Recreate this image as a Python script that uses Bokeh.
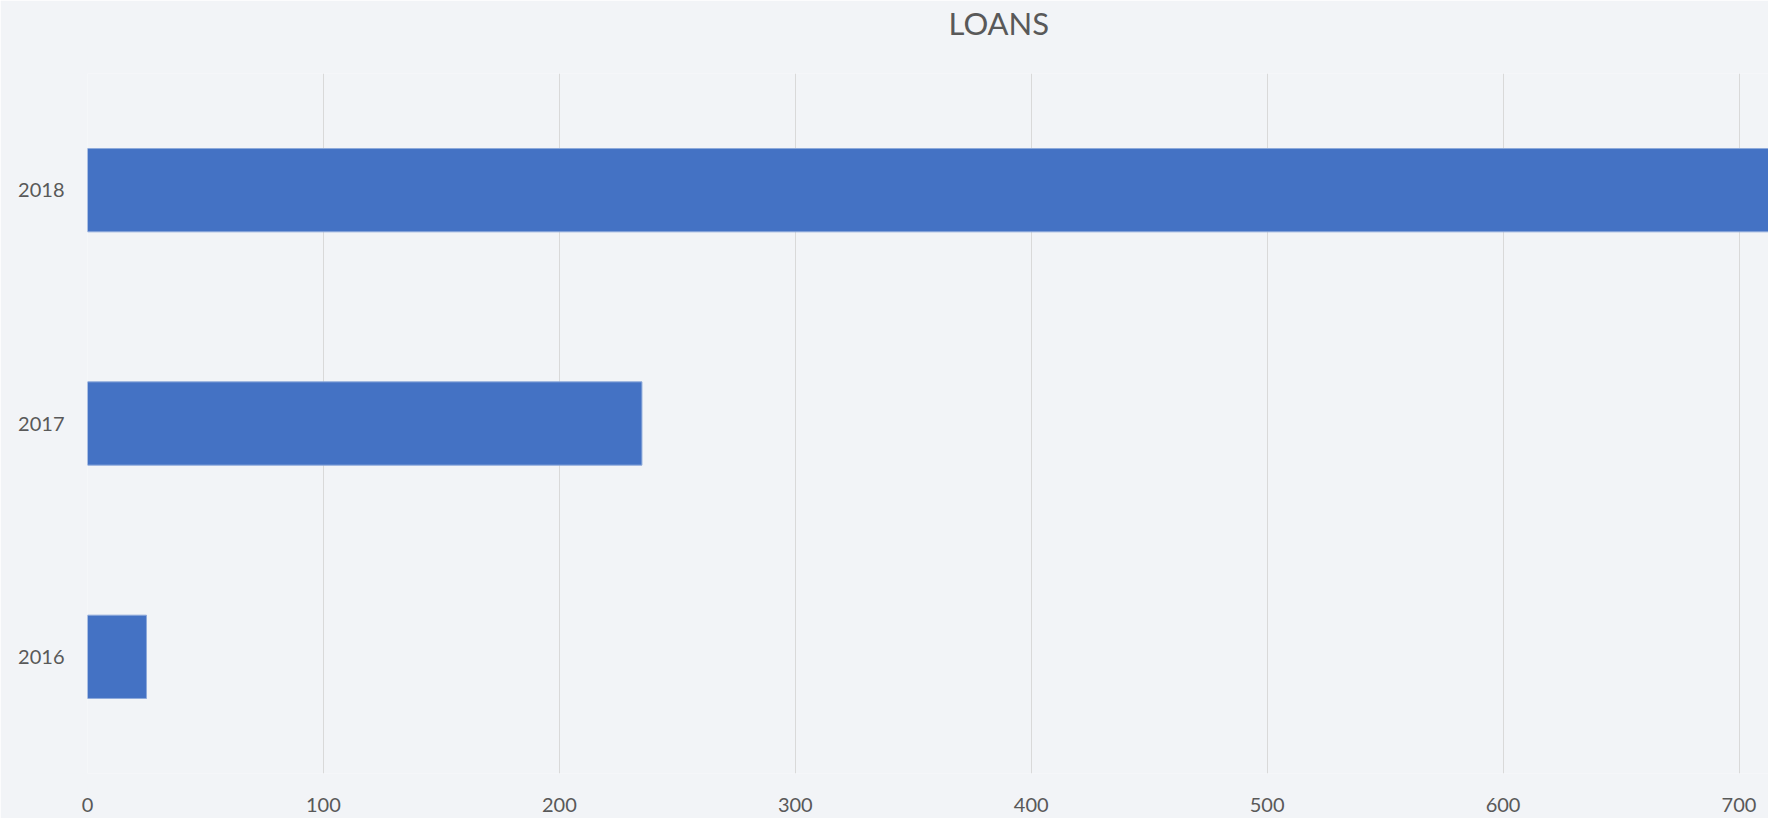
from bokeh.plotting import figure
from bokeh.models import ColumnDataSource, Range1d, FactorRange, Title
from bokeh.embed import file_html
from bokeh.resources import INLINE

years = ["2016", "2017", "2018"]
loans = [25, 235, 740]
x_ticks = [0, 100, 200, 300, 400, 500, 600, 700]
title_text = "LOANS"

src = ColumnDataSource(dict(year=years, loans=loans))

FONT = "Lato"
GREY = "#595959"

p = figure(width=1768, height=818, y_range=FactorRange(*years, range_padding=0),
           x_range=Range1d(0, 712.5), output_backend="svg", toolbar_location=None,
           title=None,
           min_border_left=87, min_border_right=0, min_border_top=73, min_border_bottom=45)

p.hbar(y="year", right="loans", left=0, height=0.357, source=src,
       fill_color="#4472c4", line_color="#8eaadb", line_width=1)

# spacer between frame and title
p.add_layout(Title(text=" ", text_font_size="1px", standoff=29), "above")
p.add_layout(Title(text=title_text, align="left", offset=861, text_font=FONT,
                   text_font_size="31px", text_font_style="normal",
                   text_color=GREY, standoff=0), "above")

p.background_fill_color = "#f2f4f7"
p.border_fill_color = "#f2f4f7"
p.outline_line_color = None

p.xaxis.ticker = x_ticks
p.xaxis.axis_line_color = None
p.xaxis.major_tick_line_color = None
p.xaxis.minor_tick_line_color = None
p.xaxis.major_label_text_font = FONT
p.xaxis.major_label_text_font_size = "20px"
p.xaxis.major_label_text_color = GREY
p.xaxis.major_label_standoff = 18

p.yaxis.axis_line_color = None
p.yaxis.major_tick_line_color = None
p.yaxis.major_label_text_font = FONT
p.yaxis.major_label_text_font_size = "20px"
p.yaxis.major_label_text_color = GREY
p.yaxis.major_label_standoff = 17

p.xgrid.grid_line_color = "#d9d9d9"
p.xgrid.grid_line_width = 1
p.ygrid.grid_line_color = None

open("out.html", "w").write(file_html(p, INLINE))
